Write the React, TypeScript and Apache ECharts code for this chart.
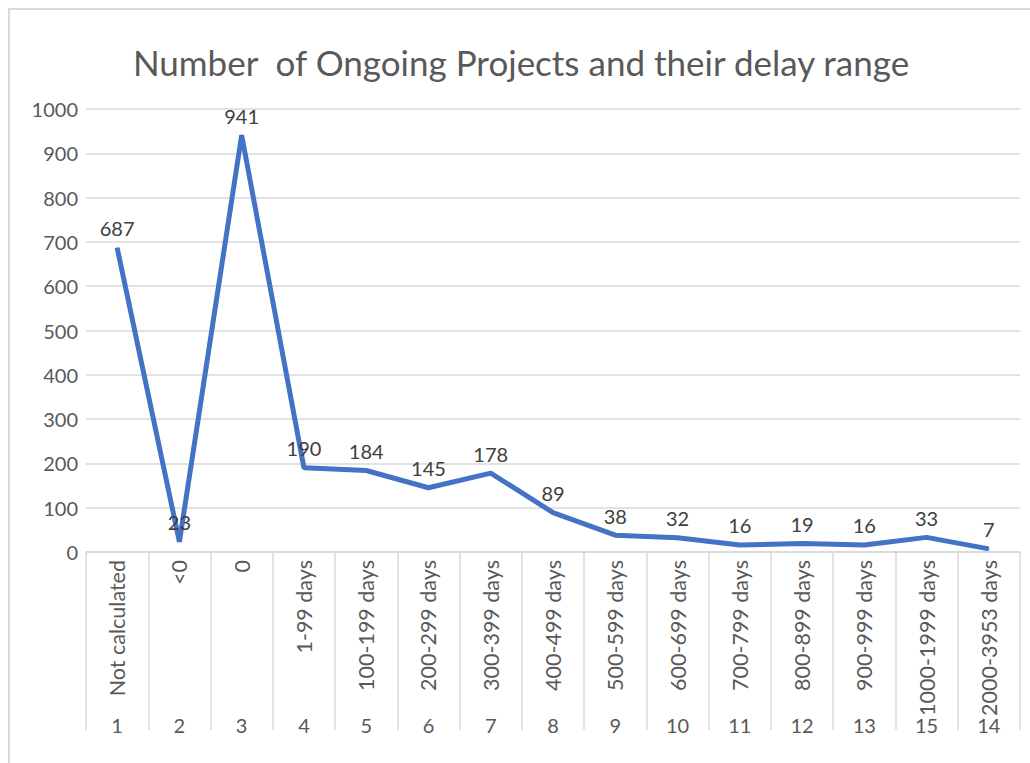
import React, { useEffect, useRef } from "react";
import * as echarts from "echarts";

const categories = [
  "Not calculated", "<0", "0", "1-99 days", "100-199 days", "200-299 days", "300-399 days",
  "400-499 days", "500-599 days", "600-699 days", "700-799 days", "800-899 days",
  "900-999 days", "1000-1999 days", "2000-3953 days",
];
const indexLabels = ["1", "2", "3", "4", "5", "6", "7", "8", "9", "10", "11", "12", "13", "15", "14"];
const values = [687, 23, 941, 190, 184, 145, 178, 89, 38, 32, 16, 19, 16, 33, 7];
const titleText = "Number  of Ongoing Projects and their delay range";

const FONT = "Lato, 'Open Sans', sans-serif";

export default function App() {
  const ref = useRef<HTMLDivElement>(null);
  useEffect(() => {
    if (!ref.current) return;
    const chart = echarts.init(ref.current, null, { renderer: "svg" });
    chart.setOption({
      animation: false,
      backgroundColor: "#ffffff",
      textStyle: { fontFamily: FONT },
      graphic: [
        {
          type: "rect",
          shape: { x: 9, y: 9, width: 1040, height: 780 },
          style: { fill: "none", stroke: "#d9d9d9", lineWidth: 2 },
          silent: true,
        },
        {
          type: "text",
          x: 521,
          y: 62,
          style: {
            text: titleText,
            fontSize: 35,
            fontFamily: FONT,
            fill: "#595959",
            align: "center",
            verticalAlign: "middle",
          },
        },
      ],
      grid: { left: 86, right: 10, top: 109, bottom: 211, containLabel: false },
      xAxis: [
        {
          type: "category",
          data: categories,
          position: "bottom",
          boundaryGap: true,
          axisLine: { show: true, lineStyle: { color: "#d9d9d9", width: 1.5 } },
          axisTick: { show: true, interval: 0, length: 178, lineStyle: { color: "#d9d9d9", width: 1.5 } },
          axisLabel: { interval: 0, rotate: 90, fontSize: 21.5, color: "#595959", margin: 8, fontFamily: FONT },
          splitLine: { show: false },
        },
        {
          type: "category",
          data: indexLabels,
          position: "bottom",
          offset: 158,
          boundaryGap: true,
          axisLine: { show: false },
          axisTick: { show: false },
          axisLabel: { interval: 0, fontSize: 20, color: "#595959", margin: 5, fontFamily: FONT },
          splitLine: { show: false },
        },
      ],
      yAxis: {
        type: "value",
        min: 0,
        max: 1000,
        interval: 100,
        axisLine: { show: false },
        axisTick: { show: false },
        axisLabel: {
          fontSize: 20,
          color: "#595959",
          margin: 8,
          fontFamily: FONT,
          formatter: (v: number) => String(v),
        },
        splitLine: { show: true, lineStyle: { color: "#d9d9d9", width: 1.5 } },
      },
      series: [
        {
          type: "line",
          xAxisIndex: 0,
          data: values,
          symbol: "circle",
          symbolSize: 1,
          showSymbol: true,
          itemStyle: { color: "#4472C4" },
          lineStyle: { color: "#4472C4", width: 5 },
          label: {
            show: true,
            position: "top",
            distance: 9,
            fontSize: 20,
            color: "#404040",
            fontFamily: FONT,
          },
        },
      ],
    });
    return () => chart.dispose();
  }, []);
  return (
    <div
      ref={ref}
      style={{ position: "absolute", left: 0, top: 0, width: 1030, height: 763 }}
    />
  );
}
